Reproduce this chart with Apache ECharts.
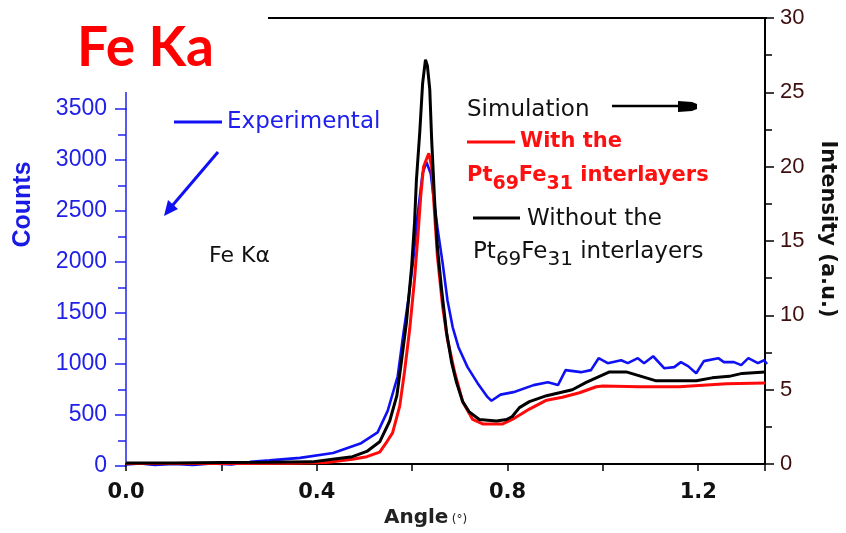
<!DOCTYPE html>
<html>
<head>
<meta charset="utf-8">
<script src="https://cdn.jsdelivr.net/npm/echarts@6/dist/echarts.min.js"></script>
<style>html,body{margin:0;padding:0;background:#fff;}#chart{width:846px;height:533px;}</style>
</head>
<body>
<div id="chart"></div>
<script>
// ---- data ----
const angleBlue = [0, 0.03, 0.06, 0.1, 0.14, 0.18, 0.22, 0.26, 0.3, 0.364, 0.433, 0.49, 0.526, 0.547, 0.568, 0.580, 0.591, 0.601, 0.609, 0.620, 0.628, 0.637, 0.643, 0.651, 0.662, 0.672, 0.683, 0.695, 0.714, 0.735, 0.756, 0.764, 0.783, 0.810, 0.852, 0.882, 0.903, 0.919, 0.951, 0.972, 0.988, 1.007, 1.035, 1.049, 1.070, 1.083, 1.102, 1.125, 1.146, 1.160, 1.175, 1.192, 1.208, 1.238, 1.250, 1.271, 1.286, 1.301, 1.321, 1.334, 1.340];
const countsBlue = [15, 25, 10, 20, 10, 25, 15, 40, 55, 80, 127, 220, 330, 540, 880, 1302, 1654, 2045, 2437, 2868, 2980, 2868, 2633, 2339, 1987, 1625, 1360, 1165, 969, 812, 675, 640, 700, 724, 793, 822, 793, 940, 920, 940, 1057, 1008, 1037, 1008, 1057, 1008, 1076, 959, 969, 1018, 979, 910, 1028, 1057, 1018, 1018, 989, 1057, 1008, 1037, 1000];

const angleRed = [0, 0.2, 0.35, 0.42, 0.475, 0.505, 0.532, 0.547, 0.559, 0.574, 0.584, 0.595, 0.605, 0.612, 0.618, 0.624, 0.630, 0.635, 0.641, 0.647, 0.653, 0.664, 0.674, 0.689, 0.706, 0.727, 0.748, 0.790, 0.810, 0.846, 0.882, 0.915, 0.951, 0.986, 1.0, 1.076, 1.160, 1.259, 1.340];
const intensityRed = [0.04, 0.04, 0.05, 0.1, 0.33, 0.5, 0.8, 1.5, 2.1, 3.9, 6.2, 9.1, 12.4, 15.3, 18.0, 20.0, 20.5, 20.9, 20.0, 16.9, 14.0, 10.6, 8.4, 6.2, 4.2, 3.0, 2.7, 2.7, 3.0, 3.7, 4.3, 4.5, 4.8, 5.2, 5.25, 5.2, 5.2, 5.4, 5.45];

const angleBlack = [0, 0.1, 0.2, 0.3, 0.39, 0.433, 0.475, 0.505, 0.532, 0.553, 0.568, 0.578, 0.588, 0.599, 0.605, 0.609, 0.616, 0.622, 0.628, 0.632, 0.637, 0.641, 0.647, 0.653, 0.662, 0.672, 0.683, 0.693, 0.706, 0.720, 0.741, 0.777, 0.798, 0.810, 0.825, 0.846, 0.882, 0.909, 0.936, 0.965, 0.993, 1.014, 1.049, 1.070, 1.091, 1.112, 1.160, 1.196, 1.229, 1.265, 1.292, 1.340];
const intensityBlack = [0.08, 0.08, 0.1, 0.12, 0.15, 0.33, 0.5, 0.85, 1.5, 2.9, 4.6, 7.0, 9.5, 13.3, 16.2, 19.1, 22.3, 25.6, 27.2, 26.8, 25.2, 21.8, 17.8, 14.6, 11.7, 8.9, 6.8, 5.5, 4.2, 3.5, 3.0, 2.9, 3.0, 3.2, 3.8, 4.2, 4.6, 4.8, 5.0, 5.5, 5.9, 6.2, 6.2, 6.0, 5.8, 5.6, 5.6, 5.6, 5.8, 5.9, 6.1, 6.2];

const xTickLabels = ['0.0', '0.4', '0.8', '1.2'];

function pairs(xs, ys) { return xs.map((x, i) => [x, ys[i]]); }

const chart = echarts.init(document.getElementById('chart'));
const option = {
  animation: false,
  backgroundColor: '#fff',
  title: {
    text: 'Fe Ka', left: 72, top: 16,
    textStyle: { color: '#ff0000', fontWeight: 'bold', fontSize: 55, fontFamily: 'Lato' }
  },
  grid: [
    { left: 126, right: 79, top: 18, bottom: 67 },
    { left: 126, right: 79, top: 109, bottom: 67 }
  ],
  xAxis: [
    {
      gridIndex: 0, type: 'value', min: 0, max: 1.34, interval: 0.2,
      splitLine: { show: false },
      axisLine: { onZero: false, lineStyle: { color: '#000', width: 2 } },
      axisTick: { length: 7, lineStyle: { color: '#000', width: 1.5 } },
      axisLabel: {
        margin: 18, color: '#111', fontFamily: 'DejaVu Sans', fontWeight: 'bold', fontSize: 21,
        formatter: function (v) { const s = v.toFixed(1); return xTickLabels.indexOf(s) >= 0 && Math.abs(v - parseFloat(s)) < 1e-6 ? s : ''; }
      },
      name: '{a|Angle} {b|(°)}', nameLocation: 'middle', nameGap: 38,
      nameTextStyle: {
        padding: [0, 40, 0, 0],
        rich: {
          a: { fontFamily: 'DejaVu Sans', fontWeight: 'bold', fontSize: 20, color: '#222' },
          b: { fontFamily: 'DejaVu Sans', fontSize: 12, color: '#222', padding: [4, 0, 0, 0] }
        }
      }
    },
    { gridIndex: 1, type: 'value', min: 0, max: 1.34, show: false, axisLine: { onZero: false } }
  ],
  yAxis: [
    {
      gridIndex: 0, type: 'value', position: 'right', min: 0, max: 30, interval: 5,
      splitLine: { show: false },
      axisLine: { show: true, onZero: false, lineStyle: { color: '#000', width: 2 } },
      axisTick: { length: 9, lineStyle: { color: '#000', width: 1.5 } },
      minorTick: { show: true, splitNumber: 2, length: 7, lineStyle: { color: '#000', width: 1.5 } },
      axisLabel: { margin: 15, color: '#3e0e0e', fontFamily: 'Liberation Sans', fontSize: 22 },
      name: 'Intensity (a.u.)', nameLocation: 'middle', nameRotate: -90, nameGap: 52,
      nameTextStyle: { color: '#111', fontFamily: 'DejaVu Sans', fontWeight: 'bold', fontSize: 21, padding: [0, 24, 0, 0] }
    },
    {
      gridIndex: 1, type: 'value', position: 'left', min: 0, max: 3500, interval: 500,
      splitLine: { show: false },
      axisLine: { show: true, onZero: false, lineStyle: { color: '#2222ee', width: 1.5 } },
      axisTick: { length: 11, lineStyle: { color: '#2222ee', width: 1.5 } },
      minorTick: { show: true, splitNumber: 2, length: 8, lineStyle: { color: '#2222ee', width: 1.5 } },
      axisLabel: { margin: 19, color: '#2020e8', fontFamily: 'Liberation Sans', fontSize: 23, formatter: function (v) { return String(v); } },
      name: 'Counts', nameLocation: 'middle', nameRotate: 90, nameGap: 90,
      nameTextStyle: { color: '#1a1ae6', fontFamily: 'Liberation Sans', fontWeight: 'bold', fontSize: 25, padding: [0, 0, 0, 166] }
    }
  ],
  series: [
    {
      name: 'Experimental', type: 'line', xAxisIndex: 1, yAxisIndex: 1, z: 2,
      showSymbol: false, data: pairs(angleBlue, countsBlue),
      lineStyle: { color: '#1010f5', width: 2.6 }
    },
    {
      name: 'With the Pt69Fe31 interlayers', type: 'line', xAxisIndex: 0, yAxisIndex: 0, z: 3,
      showSymbol: false, data: pairs(angleRed, intensityRed),
      lineStyle: { color: '#ff0a0a', width: 3 }
    },
    {
      name: 'Without the Pt69Fe31 interlayers', type: 'line', xAxisIndex: 0, yAxisIndex: 0, z: 4,
      showSymbol: false, data: pairs(angleBlack, intensityBlack),
      lineStyle: { color: '#000', width: 3 }
    }
  ],
  graphic: [
    { type: 'line', shape: { x1: 268, y1: 18, x2: 767, y2: 18 }, style: { stroke: '#000', lineWidth: 2 } },
    { type: 'line', shape: { x1: 126, y1: 92, x2: 126, y2: 110 }, style: { stroke: '#2222ee', lineWidth: 1.5 } },
    // Experimental legend
    { type: 'line', shape: { x1: 174, y1: 122, x2: 222, y2: 122 }, style: { stroke: '#1010f5', lineWidth: 3 } },
    { type: 'text', x: 227, y: 122, style: { text: 'Experimental', fill: '#2020ee', font: '23px "DejaVu Sans"', verticalAlign: 'middle' } },
    // blue arrow
    { type: 'line', shape: { x1: 218, y1: 152, x2: 172, y2: 206 }, style: { stroke: '#1010f5', lineWidth: 3 } },
    { type: 'polygon', shape: { points: [[164, 216], [168, 200], [178, 209]] }, style: { fill: '#1010f5' } },
    // Fe K alpha label
    { type: 'text', x: 209, y: 256, style: { text: 'Fe Kα', fill: '#111', font: '22px "DejaVu Sans"', verticalAlign: 'middle' } },
    // Simulation with arrow
    { type: 'text', x: 467, y: 110, style: { text: 'Simulation', fill: '#111', font: '23px "DejaVu Sans"', verticalAlign: 'middle' } },
    { type: 'line', shape: { x1: 612, y1: 106, x2: 680, y2: 106 }, style: { stroke: '#000', lineWidth: 2.5 } },
    { type: 'polygon', shape: { points: [[678, 101], [692, 102], [697, 104], [697, 109], [692, 111], [678, 112]] }, style: { fill: '#000' } },
    // red legend
    { type: 'line', shape: { x1: 467, y1: 142, x2: 515, y2: 142 }, style: { stroke: '#ff0a0a', lineWidth: 3 } },
    { type: 'text', x: 520, y: 142, style: { text: 'With the', fill: '#ff1010', font: 'bold 21px "DejaVu Sans"', verticalAlign: 'middle' } },
    { type: 'text', x: 467, y: 176, style: {
        text: 'Pt{s|69}Fe{s|31} interlayers', fill: '#ff1010', font: 'bold 21px "DejaVu Sans"', verticalAlign: 'middle',
        rich: { s: { fill: '#ff1010', font: 'bold 19px "DejaVu Sans"', padding: [16, 0, 0, 0] } }
    } },
    // black legend
    { type: 'line', shape: { x1: 473, y1: 218, x2: 520, y2: 218 }, style: { stroke: '#000', lineWidth: 3 } },
    { type: 'text', x: 527, y: 219, style: { text: 'Without the', fill: '#111', font: '23px "DejaVu Sans"', verticalAlign: 'middle' } },
    { type: 'text', x: 473, y: 252, style: {
        text: 'Pt{s|69}Fe{s|31} interlayers', fill: '#111', font: '23px "DejaVu Sans"', verticalAlign: 'middle',
        rich: { s: { fill: '#111', font: '20px "DejaVu Sans"', padding: [16, 0, 0, 0] } }
    } }
  ]
};
chart.setOption(option);
</script>
</body>
</html>
